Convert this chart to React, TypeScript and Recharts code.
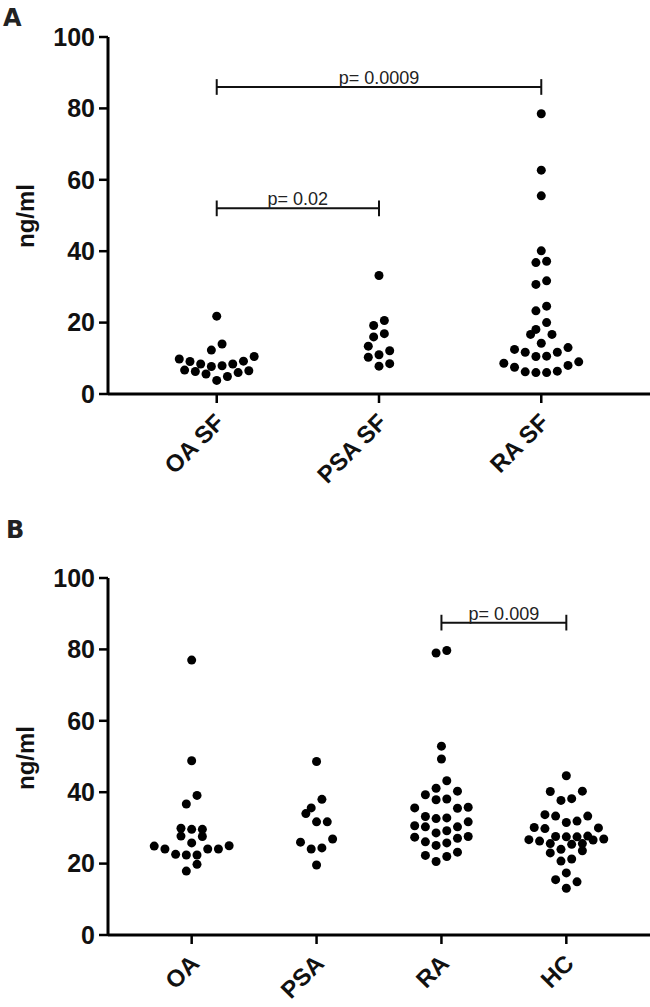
import React from "react";
import { ScatterChart, Scatter, XAxis, YAxis, ReferenceLine } from "recharts";

// panel A: synovial fluid
const groupsA = ["OA SF", "PSA SF", "RA SF"];
const oaSF = [21.8, 14.0, 12.3, 10.5, 9.8, 9.2, 9.1, 8.4, 8.4, 7.9, 7.7, 6.7, 6.5, 6.3, 6.0, 5.6, 4.9, 3.8];
const psaSF = [33.2, 20.6, 19.2, 16.9, 16.0, 13.4, 12.1, 11.0, 10.3, 8.5, 7.8];
const raSF = [78.5, 62.7, 55.5, 40.1, 37.2, 36.8, 31.7, 30.7, 24.6, 23.3, 20.0, 18.1, 16.7, 16.7, 14.2, 13.0, 12.5, 11.7, 11.7, 10.6, 10.5, 9.0, 8.6, 8.0, 7.5, 6.4, 6.2, 6.0, 6.0];

// panel B: serum
const groupsB = ["OA", "PSA", "RA", "HC"];
const oa = [77.0, 48.8, 39.1, 36.7, 29.9, 29.6, 29.6, 27.7, 27.6, 25.8, 25.0, 24.9, 24.1, 24.1, 24.1, 22.6, 22.4, 22.4, 19.8, 17.9];
const psa = [48.6, 38.0, 35.6, 34.0, 31.7, 31.7, 26.9, 26.0, 24.4, 24.1, 19.6];
const ra = [79.7, 79.0, 52.9, 49.3, 43.2, 41.1, 40.3, 39.3, 38.1, 37.9, 35.8, 35.6, 35.5, 33.2, 32.8, 32.6, 31.7, 30.6, 30.3, 30.3, 29.2, 28.6, 27.6, 27.4, 27.1, 26.1, 25.8, 25.1, 23.2, 22.3, 22.0, 20.6];
const hc = [44.6, 40.3, 40.2, 38.2, 37.7, 33.7, 33.3, 33.3, 31.9, 31.5, 30.1, 30.0, 29.8, 27.7, 27.6, 27.5, 27.5, 26.9, 26.7, 26.6, 26.3, 25.6, 25.6, 25.4, 24.0, 23.6, 23.0, 21.3, 20.7, 17.4, 15.5, 14.9, 13.1];

const yTicks = [0, 20, 40, 60, 80, 100];

// significance brackets (group numbers are 1-based)
const bracketsA = [
    { from: 1, to: 2, y: 52, label: "p= 0.02" },
    { from: 1, to: 3, y: 86, label: "p= 0.0009" },
];
const bracketsB = [{ from: 3, to: 4, y: 87.5, label: "p= 0.009" }];

const FONT = "'Liberation Sans', Arial, sans-serif";
const DOT_R = 4.5;
const STEP = 10.7; // px between neighbouring dots in a swarm row
const ROW_SPAN = 3.2; // values closer than this share a row
const CAP = 2.2; // bracket end-cap half height, in data units

// prism-like scatter: bin sorted values into rows, spread each row from the centre out
function swarm(values: number[], group: number) {
    const sorted = [...values].sort((a, b) => a - b);
    const out: { x: number; y: number; lane: number }[] = [];
    let i = 0;
    while (i < sorted.length) {
        const start = sorted[i];
        const row: number[] = [];
        while (i < sorted.length && sorted[i] < start + ROW_SPAN) {
            row.push(sorted[i]);
            i++;
        }
        const n = row.length;
        row.forEach((v, k) => {
            let lane = 0;
            if (n % 2 === 1) {
                if (k > 0) {
                    const m = Math.ceil(k / 2);
                    lane = k % 2 === 1 ? m : -m;
                }
            } else {
                const m = Math.floor(k / 2) + 0.5;
                lane = k % 2 === 0 ? -m : m;
            }
            out.push({ x: group, y: v, lane });
        });
    }
    return out;
}

const dataA = [oaSF, psaSF, raSF].flatMap((vals, i) => swarm(vals, i + 1));
const dataB = [oa, psa, ra, hc].flatMap((vals, i) => swarm(vals, i + 1));

const Dot = (p: any) => (
    <circle cx={p.cx + p.payload.lane * STEP} cy={p.cy} r={DOT_R} fill="#000" />
);

const makeTick = (names: string[]) => (props: any) => {
    const { x, y, payload } = props;
    const px = x + 9;
    const py = y + 19;
    return (
        <text
            x={px}
            y={py}
            textAnchor="end"
            transform={`rotate(-45 ${px} ${py})`}
            fontSize={24}
            fontWeight="bold"
            fontFamily={FONT}
            fill="#111"
        >
            {names[payload.value - 1]}
        </text>
    );
};

function bracketLines(list: typeof bracketsA, prefix: string) {
    return list.flatMap((b, i) => [
        <ReferenceLine
            key={`${prefix}h${i}`}
            segment={[{ x: b.from, y: b.y }, { x: b.to, y: b.y }]}
            stroke="#111"
            strokeWidth={2}
            label={{ value: b.label, position: "top", fontSize: 18, fill: "#222", fontFamily: FONT, offset: 3 }}
        />,
        <ReferenceLine
            key={`${prefix}l${i}`}
            segment={[{ x: b.from, y: b.y - CAP }, { x: b.from, y: b.y + CAP }]}
            stroke="#111"
            strokeWidth={2}
        />,
        <ReferenceLine
            key={`${prefix}r${i}`}
            segment={[{ x: b.to, y: b.y - CAP }, { x: b.to, y: b.y + CAP }]}
            stroke="#111"
            strokeWidth={2}
        />,
    ]);
}

const yTickStyle = { fontSize: 25, fontWeight: "bold", fill: "#111", fontFamily: FONT };

function Panel({ data, names, brackets, height, top, xHeight, prefix }: any) {
    const n = names.length;
    return (
        <ScatterChart width={650} height={height} margin={{ top, right: 0, bottom: 0, left: 0 }}>
            <XAxis
                type="number"
                dataKey="x"
                domain={[0.33, n + 0.67]}
                ticks={names.map((_: string, i: number) => i + 1)}
                interval={0}
                height={xHeight}
                tickSize={9}
                axisLine={{ stroke: "#000", strokeWidth: 3 }}
                tickLine={{ stroke: "#000", strokeWidth: 2.5 }}
                tick={makeTick(names)}
            />
            <YAxis
                type="number"
                dataKey="y"
                domain={[0, 100]}
                ticks={yTicks}
                interval={0}
                width={108}
                tickSize={9}
                tickMargin={4}
                axisLine={{ stroke: "#000", strokeWidth: 3 }}
                tickLine={{ stroke: "#000", strokeWidth: 2.5 }}
                tick={yTickStyle}
            />
            {bracketLines(brackets, prefix)}
            <Scatter data={data} shape={Dot} isAnimationActive={false} />
        </ScatterChart>
    );
}

export default function App() {
    return (
        <div style={{ position: "absolute", left: 0, top: 0, width: 650, height: 1007, background: "#fff" }}>
            <Panel data={dataA} names={groupsA} brackets={bracketsA} height={500} top={37} xHeight={106} prefix="a" />
            <Panel data={dataB} names={groupsB} brackets={bracketsB} height={507} top={78} xHeight={72} prefix="b" />
            <svg width={650} height={1007} style={{ position: "absolute", left: 0, top: 0, pointerEvents: "none" }}>
                <text x={3} y={26} fontSize={24} fontWeight="bold" fontFamily="'DejaVu Sans', Verdana, sans-serif" fill="#222">A</text>
                <text x={6} y={538} fontSize={24} fontWeight="bold" fontFamily="'DejaVu Sans', Verdana, sans-serif" fill="#222">B</text>
                <text x={34} y={216} transform="rotate(-90 34 216)" textAnchor="middle" fontSize={24} fontWeight="bold" fontFamily={FONT} fill="#111">ng/ml</text>
                <text x={34} y={758} transform="rotate(-90 34 758)" textAnchor="middle" fontSize={24} fontWeight="bold" fontFamily={FONT} fill="#111">ng/ml</text>
            </svg>
        </div>
    );
}
